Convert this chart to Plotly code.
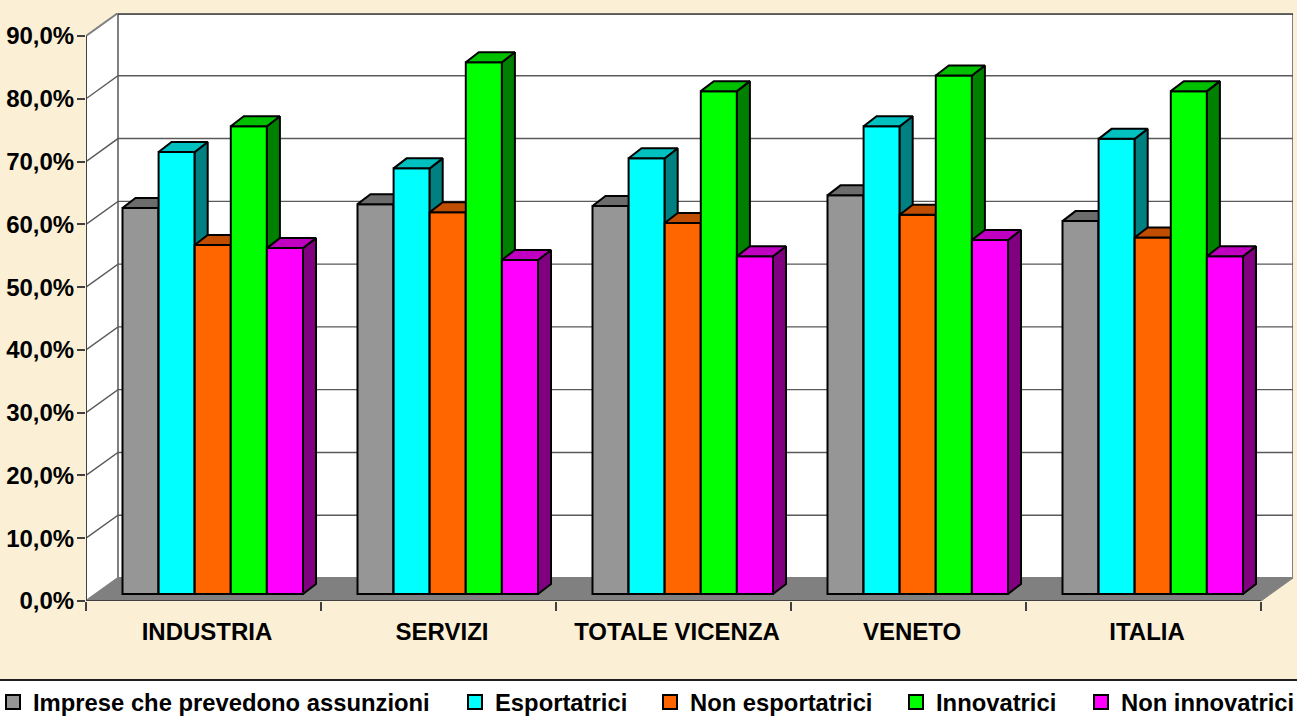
import plotly.graph_objects as go

categories = ["INDUSTRIA", "SERVIZI", "TOTALE VICENZA", "VENETO", "ITALIA"]
imprese = [61.5, 62.1, 61.8, 63.5, 59.4]
esportatrici = [70.4, 67.8, 69.4, 74.5, 72.5]
non_esportatrici = [55.6, 60.8, 59.1, 60.4, 56.8]
innovatrici = [74.5, 84.7, 80.1, 82.6, 80.1]
non_innovatrici = [55.1, 53.2, 53.8, 56.4, 53.8]
y_ticks = [0, 10, 20, 30, 40, 50, 60, 70, 80, 90]
y_labels = ["0,0%", "10,0%", "20,0%", "30,0%", "40,0%", "50,0%", "60,0%", "70,0%", "80,0%", "90,0%"]

series = [
    ("Imprese che prevedono assunzioni", imprese, "#969696", "#6C6C6C", "#4B4B4B", 33),
    ("Esportatrici", esportatrici, "#00FFFF", "#00C0C0", "#008080", 495),
    ("Non esportatrici", non_esportatrici, "#FF6600", "#C04D00", "#804000", 690),
    ("Innovatrici", innovatrici, "#00FF00", "#00C000", "#008000", 936),
    ("Non innovatrici", non_innovatrici, "#FF00FF", "#C000C0", "#800080", 1121),
]

W, H = 1297, 716
L, R, T, B = 86, 1293, 13, 601
CAT_PX = 235.0
Y_PX = 565 / 90.0
WALL_DX, WALL_DY = 32 / CAT_PX, 23 / Y_PX
BAR_DX, BAR_DY = 13 / CAT_PX, 10 / Y_PX
BAR_W = 36.1 / CAT_PX
BAR_X0 = 36.5 / CAT_PX
BAR_BASE = 7 / Y_PX
BG = "#FBF0D5"
WALL_LINE = "#808080"
GRID = "#5A5A5A"
AXIS = "#404040"
FONT = "Liberation Sans"

fig = go.Figure()


def poly(xs, ys, fill, line=WALL_LINE, width=0, xa="x", ya="y"):
    fig.add_trace(go.Scatter(
        x=xs, y=ys, mode="lines", fill="toself" if fill else None, fillcolor=fill,
        line=dict(color=line, width=width), showlegend=False, hoverinfo="skip",
        xaxis=xa, yaxis=ya, cliponaxis=False,
    ))


n = len(categories)
top = y_ticks[-1]
# back wall, left wall and floor
poly([WALL_DX, n + WALL_DX, n + WALL_DX, WALL_DX, WALL_DX],
     [WALL_DY, WALL_DY, top + WALL_DY, top + WALL_DY, WALL_DY], "#FFFFFF", WALL_LINE, 2)
poly([0, WALL_DX, WALL_DX, 0, 0], [0, WALL_DY, top + WALL_DY, top, 0], "#FFFFFF", WALL_LINE, 2)
poly([WALL_DX, n + WALL_DX], [top + WALL_DY - 0.2, top + WALL_DY - 0.2], None, "#202020", 1.2)
# gridlines on both walls
gx, gy = [], []
for v in y_ticks[1:-1]:
    gx += [0, WALL_DX, n + WALL_DX, None]
    gy += [v, v + WALL_DY, v + WALL_DY, None]
poly(gx, gy, None, GRID, 1.4)
poly([0, n, n + WALL_DX, WALL_DX, 0], [0, 0, WALL_DY, WALL_DY, 0], "#808080", "#808080", 1)
# axis lines
poly([0, 0], [0, top], None, AXIS, 2)
poly([0, n], [0, 0], None, AXIS, 2)

# one overlaid axis pair per series so each series paints over the previous one
layout_axes = {}
for k, (name, vals, front, top_c, side_c, text_px) in enumerate(series):
    idx = k + 2
    xa, ya = f"x{idx}", f"y{idx}"
    layout_axes[f"xaxis{idx}"] = dict(overlaying="x", matches="x", visible=False)
    layout_axes[f"yaxis{idx}"] = dict(overlaying="y", matches="y", visible=False)
    lefts = [i + BAR_X0 + k * BAR_W for i in range(n)]
    tx, ty, sx, sy = [], [], [], []
    for x0, v in zip(lefts, vals):
        x1 = x0 + BAR_W
        h = BAR_BASE + v
        tx += [x0, x1, x1 + BAR_DX, x0 + BAR_DX, x0, None]
        ty += [h, h, h + BAR_DY, h + BAR_DY, h, None]
        sx += [x1, x1 + BAR_DX, x1 + BAR_DX, x1, x1, None]
        sy += [BAR_BASE, BAR_BASE + BAR_DY, h + BAR_DY, h, BAR_BASE, None]
    poly(sx, sy, side_c, "#000000", 2, xa, ya)
    poly(tx, ty, top_c, "#000000", 2, xa, ya)
    legend_id = "legend" if k == 0 else f"legend{k + 1}"
    fig.add_trace(go.Bar(
        x=[x + BAR_W / 2 for x in lefts], y=vals, base=BAR_BASE, width=BAR_W, name=name,
        marker=dict(color=front, line=dict(color="#000000", width=2)),
        xaxis=xa, yaxis=ya, showlegend=False, cliponaxis=False, hoverinfo="skip",
    ))
    # legend key: a larger square than a bar trace's own swatch
    fig.add_trace(go.Scatter(
        x=[None], y=[None], mode="markers", name=name, legend=legend_id,
        marker=dict(symbol="square", size=14, color=front, line=dict(color="#000000", width=2)),
        xaxis=xa, yaxis=ya, hoverinfo="skip",
    ))
    layout_axes[legend_id] = dict(
        x=(text_px - 40 - L) / (R - L), y=(B - 702) / (B - T), xanchor="left", yanchor="middle",
        bgcolor="rgba(0,0,0,0)", itemwidth=30, borderwidth=0,
        font=dict(family=FONT, size=23.8, color="#000000", weight="bold"),
        itemclick=False, itemdoubleclick=False,
    )

fig.update_layout(
    width=W, height=H, autosize=False,
    margin=dict(l=L, r=W - R, t=T, b=H - B, pad=0, autoexpand=False),
    paper_bgcolor=BG, plot_bgcolor="rgba(0,0,0,0)",
    barmode="overlay", hovermode=False,
    xaxis=dict(
        range=[0, (R - L) / CAT_PX], showgrid=False, zeroline=False, showline=False,
        tickmode="array", tickvals=[i + 0.515 for i in range(n)], ticktext=categories, ticks="",
        ticklabelstandoff=14,
        tickfont=dict(family=FONT, size=24, color="#000000", weight="bold"),
        minor=dict(tickmode="array", tickvals=list(range(n + 1)), ticks="outside",
                   ticklen=9, tickwidth=1.5, tickcolor=AXIS),
    ),
    yaxis=dict(
        range=[0, (B - T) / Y_PX], showgrid=False, zeroline=False, showline=False,
        tickmode="array", tickvals=y_ticks, ticktext=y_labels, ticks="outside",
        ticklen=8, tickwidth=1.5, tickcolor=AXIS, ticklabelstandoff=-2,
        tickfont=dict(family=FONT, size=24, color="#000000", weight="bold"),
    ),
    shapes=[dict(type="rect", xref="paper", yref="paper",
                 x0=(0 - L) / (R - L), x1=(W - L) / (R - L),
                 y0=(B - 680) / (B - T), y1=(B - 717) / (B - T),
                 fillcolor="#FFFFFF", line=dict(color="#303030", width=0), layer="below"),
            dict(type="line", xref="paper", yref="paper",
                 x0=(0 - L) / (R - L), x1=(W - L) / (R - L),
                 y0=(B - 680) / (B - T), y1=(B - 680) / (B - T),
                 line=dict(color="#202020", width=2), layer="below")],
    **layout_axes,
)

fig.write_html("out.html", config={"displayModeBar": False},
               post_script="document.body.style.margin='0';document.body.style.overflow='hidden';")
